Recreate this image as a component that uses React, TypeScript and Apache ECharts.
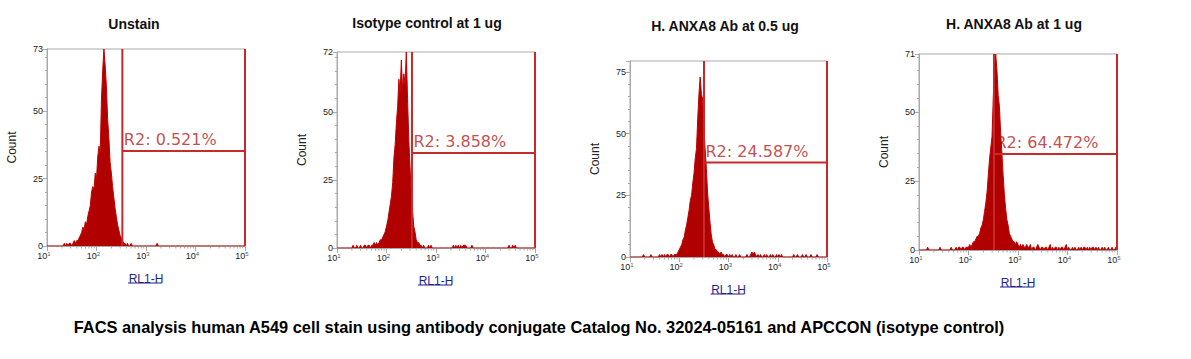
import React, { useEffect, useRef } from "react";
import * as echarts from "echarts";

// ---------- data ----------
const panelTitles = [
  "Unstain",
  "Isotype control at 1 ug",
  "H. ANXA8 Ab at 0.5 ug",
  "H. ANXA8 Ab at 1 ug",
];
const gateLabels = ["R2: 0.521%", "R2: 3.858%", "R2: 24.587%", "R2: 64.472%"];
const yAxisMax = [73, 72, 79.5, 71];
const gateLow = [333, 327, 318, 327];
const gateHigh = [100000, 100000, 100000, 100000];
const gateLevel = [35.2, 34.9, 38.3, 34.8];
const caption =
  "FACS analysis human A549 cell stain using antibody conjugate Catalog No. 32024-05161 and APCCON (isotype control)";
const xAxisName = "RL1-H";
const yAxisName = "Count";

// histogram bins: bin i sits at 10^(binLogStart + binLogStep * i)
const binLogStart = 1;
const binLogStep = 0.025;

const countsUnstain = [
  0, 0, 0, 0, 0, 0, 0, 0, 0, 0, 0, 0, 0, 0, 1, 0, 1, 0, 1, 1,
  0, 1, 2, 1, 2, 2, 3, 4, 5, 7, 6, 9, 8, 11, 13, 15, 20, 22, 21, 27,
  25, 33, 37, 34, 54, 65, 73, 67, 59, 47, 40, 31, 27, 22, 18, 14, 11, 8, 6, 4,
  3, 2, 1, 1, 0, 1, 0, 0, 1, 0, 0, 0, 0, 0, 0, 0, 0, 0, 0, 0,
  0, 0, 0, 0, 0, 0, 0, 0, 0, 1, 0, 0, 0, 0, 0, 0, 0, 0, 0, 0,
  0, 0, 0, 0, 0, 0, 0, 0, 0, 0, 0, 0, 0, 0, 0, 0, 0, 0, 0, 0,
  0, 0, 0, 0, 0, 0, 0, 0, 0, 0, 0, 0, 0, 0, 0, 0, 0, 0, 0, 0,
  0, 0, 0, 0, 0, 0, 0, 0, 0, 0, 0, 0, 0, 0, 0, 0, 0, 0, 0, 0,
  0,
];
const countsIsotype = [
  0, 0, 0, 0, 0, 0, 0, 0, 0, 0, 0, 0, 0, 1, 0, 0, 1, 0, 0, 1,
  0, 0, 1, 1, 0, 1, 1, 0, 1, 1, 2, 1, 2, 1, 2, 3, 3, 4, 5, 6,
  8, 10, 13, 16, 19, 24, 33, 38, 46, 52, 62, 57, 69, 58, 64, 60, 72, 55, 40, 30,
  19, 14, 8, 6, 3, 2, 2, 1, 1, 0, 1, 0, 0, 0, 1, 0, 1, 0, 0, 0,
  0, 0, 0, 0, 0, 0, 0, 0, 0, 0, 0, 0, 0, 0, 1, 0, 1, 0, 1, 0,
  1, 0, 1, 1, 1, 0, 0, 0, 0, 1, 0, 0, 0, 0, 0, 0, 0, 0, 0, 0,
  0, 0, 0, 0, 0, 0, 0, 0, 0, 0, 0, 0, 0, 0, 0, 0, 0, 0, 0, 1,
  0, 0, 1, 0, 1, 0, 0, 0, 0, 0, 0, 0, 0, 0, 0, 0, 0, 0, 0, 0,
  0,
];
const countsAb05 = [
  0, 0, 0, 0, 0, 0, 0, 0, 0, 0, 0, 1, 0, 0, 0, 0, 0, 1, 0, 0,
  0, 0, 0, 0, 1, 0, 1, 0, 1, 0, 1, 1, 0, 1, 1, 0, 1, 1, 1, 2,
  3, 4, 5, 7, 8, 11, 13, 16, 19, 23, 25, 30, 34, 40, 44, 56, 66, 73, 66, 64,
  52, 44, 36, 26, 20, 14, 9, 6, 5, 3, 3, 2, 2, 1, 2, 1, 1, 0, 1, 1,
  0, 1, 0, 1, 0, 0, 1, 0, 0, 1, 0, 0, 0, 0, 0, 1, 0, 0, 1, 2,
  1, 2, 1, 0, 1, 0, 1, 0, 0, 1, 0, 1, 0, 0, 1, 0, 1, 0, 0, 1,
  0, 1, 0, 1, 0, 0, 0, 0, 0, 0, 0, 0, 0, 1, 0, 0, 1, 0, 0, 0,
  1, 0, 0, 1, 0, 0, 0, 1, 0, 0, 0, 0, 1, 0, 0, 0, 0, 0, 0, 0,
  0,
];
const countsAb1 = [
  0, 0, 0, 0, 0, 0, 0, 1, 0, 0, 0, 0, 0, 0, 0, 0, 0, 1, 0, 0,
  0, 0, 0, 0, 0, 0, 1, 0, 0, 0, 1, 0, 1, 1, 0, 1, 1, 0, 1, 1,
  1, 2, 1, 2, 3, 3, 4, 5, 5, 6, 8, 9, 11, 14, 17, 21, 27, 33, 37, 41,
  55, 66, 71, 65, 56, 52, 42, 35, 27, 20, 15, 11, 9, 6, 5, 4, 3, 3, 2, 3,
  2, 1, 2, 1, 2, 1, 1, 2, 1, 1, 2, 0, 1, 1, 0, 1, 2, 1, 0, 1,
  1, 0, 1, 1, 0, 1, 2, 0, 1, 0, 1, 1, 0, 1, 0, 1, 1, 0, 1, 2,
  0, 1, 0, 0, 1, 0, 1, 0, 0, 1, 0, 1, 0, 1, 1, 0, 1, 0, 1, 0,
  1, 1, 0, 1, 0, 1, 0, 0, 1, 0, 1, 0, 0, 1, 0, 0, 1, 0, 0, 1,
  0,
];
const panelCounts = [countsUnstain, countsIsotype, countsAb05, countsAb1];

const decades = [10, 100, 1000, 10000];
const minorMultipliers = [2, 3, 4, 5, 6, 7, 8, 9];

// ---------- layout ----------
const grids = [
  { left: 47, top: 49, width: 198, height: 197 },
  { left: 337, top: 52, width: 198, height: 196 },
  { left: 630, top: 61, width: 197, height: 196 },
  { left: 919, top: 54, width: 198, height: 196 },
];
const titlePos = [
  [134, 24],
  [427, 23],
  [725, 26],
  [1014, 24],
];

const AXIS_GRAY = "#a9a9a9";
const HIST_LINE = "#c00000";
const HIST_FILL = "#b00000";
const GATE = "#c62a2a";
const SANS = '"Liberation Sans", Arial, sans-serif';

export default function App() {
  const ref = useRef<HTMLDivElement>(null);

  useEffect(() => {
    if (!ref.current) return;
    const chart = echarts.init(ref.current, undefined, { renderer: "svg" });

    const minorTickValues: number[] = [];
    decades.forEach((d) => minorMultipliers.forEach((m) => minorTickValues.push(d * m)));

    const series: any[] = [];
    panelCounts.forEach((counts, k) => {
      series.push({
        type: "line",
        xAxisIndex: k,
        yAxisIndex: k,
        data: counts.map((c, i) => [Math.pow(10, binLogStart + binLogStep * i), c]),
        symbol: "none",
        lineStyle: { color: HIST_LINE, width: 1 },
        areaStyle: { color: HIST_FILL, opacity: 1 },
        z: 3,
        silent: true,
      });
      series.push({
        type: "line",
        xAxisIndex: k,
        yAxisIndex: k,
        clip: false,
        data: [
          [gateLow[k], 0],
          [gateLow[k], yAxisMax[k]],
          [gateLow[k], gateLevel[k]],
          [gateHigh[k], gateLevel[k]],
          [gateHigh[k], yAxisMax[k]],
          [gateHigh[k], 0],
        ],
        symbol: "none",
        lineStyle: { color: GATE, width: 2 },
        z: 4,
        silent: true,
      });
      series.push({
        type: "scatter",
        xAxisIndex: k,
        yAxisIndex: k,
        data: [[gateLow[k], gateLevel[k]]],
        symbolSize: 1,
        itemStyle: { color: "rgba(0,0,0,0)" },
        label: {
          show: true,
          formatter: gateLabels[k],
          position: [2, -3],
          align: "left",
          verticalAlign: "bottom",
          fontSize: 16,
          fontFamily: '"DejaVu Sans", Verdana, sans-serif',
          color: "#b41d24",
        },
        z: 2,
        silent: true,
      });
      series.push({
        type: "custom",
        xAxisIndex: k,
        yAxisIndex: k,
        silent: true,
        data: minorTickValues.map((v) => [v, 0]),
        renderItem: (_p: any, api: any) => {
          const pt = api.coord([api.value(0), 0]);
          return {
            type: "line",
            shape: { x1: pt[0], y1: pt[1], x2: pt[0], y2: pt[1] + 2.5 },
            style: { stroke: AXIS_GRAY, lineWidth: 1 },
          };
        },
      });
    });

    const graphic: any[] = [];
    panelTitles.forEach((t, k) => {
      graphic.push({
        type: "text",
        x: titlePos[k][0],
        y: titlePos[k][1],
        style: {
          text: t,
          font: `bold 14px ${SANS}`,
          fill: "#111",
          align: "center",
          verticalAlign: "middle",
        },
      });
      const g = grids[k];
      const cx = g.left + g.width / 2 - 1;
      graphic.push({
        type: "line",
        shape: { x1: cx - 17, y1: g.top + g.height + 37, x2: cx + 17, y2: g.top + g.height + 37 },
        style: { stroke: "#1f1f8f", lineWidth: 1 },
      });
    });
    graphic.push({
      type: "text",
      x: 539,
      y: 327,
      style: {
        text: caption,
        font: `bold 16.4px ${SANS}`,
        fill: "#000",
        align: "center",
        verticalAlign: "middle",
      },
    });

    const option: any = {
      animation: false,
      backgroundColor: "#ffffff",
      grid: grids.map((g) => ({
        ...g,
        show: true,
        borderColor: AXIS_GRAY,
        borderWidth: 1,
        backgroundColor: "transparent",
      })),
      xAxis: grids.map((_g, k) => ({
        type: "log",
        logBase: 10,
        gridIndex: k,
        min: 10,
        max: 100000,
        splitLine: { show: false },
        axisLine: { show: true, lineStyle: { color: AXIS_GRAY } },
        axisTick: { show: true, length: 5, lineStyle: { color: AXIS_GRAY } },
        axisLabel: {
          formatter: (v: number) => "10{e|" + Math.round(Math.log10(v)) + "}",
          color: "#222",
          fontSize: 9,
          fontFamily: SANS,
          margin: 5,
          padding: [0, 6, 0, 0],
          rich: { e: { fontSize: 6, verticalAlign: "top", fontFamily: SANS, color: "#555" } },
        },
        name: xAxisName,
        nameLocation: "middle",
        nameGap: 27,
        nameTextStyle: { color: "#1f1f8f", fontSize: 12, fontFamily: SANS },
      })),
      yAxis: grids.map((_g, k) => ({
        type: "value",
        gridIndex: k,
        min: 0,
        max: yAxisMax[k],
        interval: 25,
        splitLine: { show: false },
        axisLine: { show: true, lineStyle: { color: AXIS_GRAY } },
        axisTick: { show: true, length: 4, lineStyle: { color: AXIS_GRAY } },
        minorTick: { show: true, splitNumber: 5, length: 2, lineStyle: { color: AXIS_GRAY } },
        axisLabel: {
          fontSize: 9,
          color: "#222",
          fontFamily: SANS,
          margin: 4,
          showMaxLabel: k !== 2,
        },
        name: yAxisName,
        nameLocation: "middle",
        nameGap: 29,
        nameRotate: 90,
        nameTextStyle: { fontSize: 12, color: "#222", fontFamily: SANS },
      })),
      series,
      graphic,
    };

    chart.setOption(option);
    return () => chart.dispose();
  }, []);

  return (
    <div
      ref={ref}
      style={{ position: "fixed", left: 0, top: 0, width: 1191, height: 359, background: "#fff" }}
    />
  );
}
